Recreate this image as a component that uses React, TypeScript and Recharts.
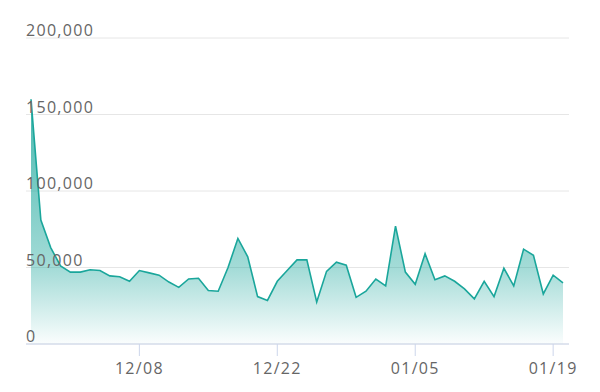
import React from "react";
import { AreaChart, Area, XAxis, YAxis, CartesianGrid } from "recharts";

const dates: string[] = [
  "11/27","11/28","11/29","11/30",
  "12/01","12/02","12/03","12/04","12/05","12/06","12/07","12/08","12/09","12/10",
  "12/11","12/12","12/13","12/14","12/15","12/16","12/17","12/18","12/19","12/20",
  "12/21","12/22","12/23","12/24","12/25","12/26","12/27","12/28","12/29","12/30","12/31",
  "01/01","01/02","01/03","01/04","01/05","01/06","01/07","01/08","01/09","01/10",
  "01/11","01/12","01/13","01/14","01/15","01/16","01/17","01/18","01/19","01/20",
];

const values: number[] = [
  160000, 81000, 63000, 51000, 47000, 47000, 48500, 48000, 44500, 44000,
  41000, 48000, 46500, 45000, 40500, 37000, 42500, 43000, 35000, 34500,
  50000, 69000, 57000, 31000, 28500, 41000, 48000, 55000, 55000, 27500,
  47500, 53500, 51500, 30500, 34500, 42500, 38000, 77000, 47000, 39000,
  59000, 42000, 44500, 41000, 36000, 29500, 41000, 31000, 49500, 38000,
  62000, 58000, 32700, 45000, 40000,
];

const xTicks: string[] = ["12/08", "12/22", "01/05", "01/19"];
const yTicks: number[] = [0, 50000, 100000, 150000, 200000];

const data = dates.map((d, i) => ({ date: d, value: values[i] }));

const FONT = "'Open Sans', 'Noto Sans', sans-serif";

const renderYTick = (props: any) => {
  const { y, payload } = props;
  return (
    <text
      key={`yt-${payload.value}`}
      x={18}
      y={y - 2}
      textAnchor="start"
      fill="#666666"
      fontSize={16}
      fontFamily={FONT}
      letterSpacing={1.3}
    >
      {Number(payload.value).toLocaleString("en-US")}
    </text>
  );
};

export default function App() {
  return (
    <AreaChart
      width={584}
      height={376}
      data={data}
      margin={{ top: 30, right: 23, left: 17, bottom: 10 }}
    >
      <defs>
        <linearGradient id="fillGrad" x1="0" y1="0" x2="0" y2="1">
          <stop offset="0%" stopColor="#1aa69b" stopOpacity={0.8} />
          <stop offset="69%" stopColor="#1aa69b" stopOpacity={0.4} />
          <stop offset="100%" stopColor="#1aa69b" stopOpacity={0.02} />
        </linearGradient>
      </defs>
      <CartesianGrid vertical={false} stroke="#e6e6e6" strokeWidth={1} />
      <XAxis
        dataKey="date"
        ticks={xTicks}
        interval={0}
        padding={{ left: 5, right: 6 }}
        height={30}
        tickSize={12}
        tickMargin={7}
        axisLine={{ stroke: "#ccd6eb" }}
        tickLine={{ stroke: "#ccd6eb" }}
        tick={{ fill: "#666666", fontSize: 16, fontFamily: FONT, letterSpacing: 1.3 } as any}
      />
      <YAxis
        width={1}
        domain={[0, 200000]}
        ticks={yTicks}
        interval={0}
        axisLine={false}
        tickLine={false}
        tick={renderYTick}
      />
      <Area
        type="linear"
        dataKey="value"
        stroke="#1aa69b"
        strokeWidth={1.6}
        fill="url(#fillGrad)"
        fillOpacity={1}
        dot={false}
        activeDot={false}
        isAnimationActive={false}
      />
    </AreaChart>
  );
}
